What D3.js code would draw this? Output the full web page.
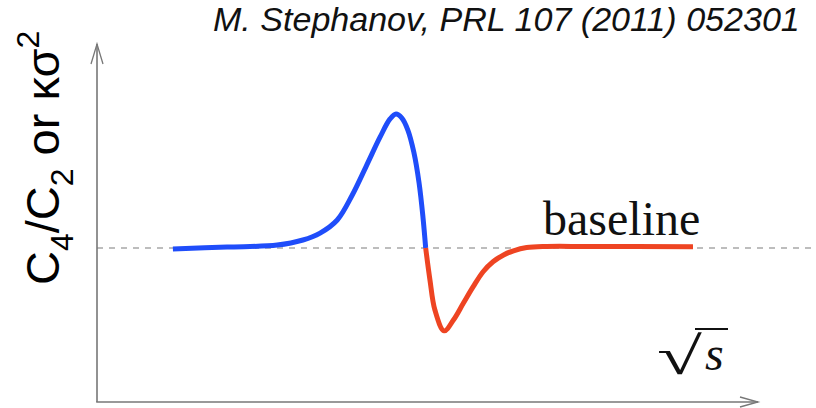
<!DOCTYPE html>
<html>
<head>
<meta charset="utf-8">
<script src="https://cdn.jsdelivr.net/npm/d3@7"></script>
<style>
  html, body { margin: 0; padding: 0; background: #fff; }
  svg { display: block; }
</style>
</head>
<body>
<svg id="chart" width="816" height="408"></svg>
<script>
// sqrt(s) in arbitrary units, ratio relative to baseline = 1
const blueX = [11.5, 19.7, 27.3, 31.2, 33.8, 36.4, 38.6, 40.8, 42.9, 44.4, 45.3, 46.2, 47.1, 48.0, 48.8, 49.4, 49.8];
const blueY = [0.994, 1.006, 1.019, 1.052, 1.097, 1.182, 1.338, 1.532, 1.721, 1.838, 1.870, 1.844, 1.766, 1.623, 1.422, 1.195, 1.0];
const redX = [49.8, 50.45, 51.2, 52.6, 54.0, 55.5, 57.0, 58.5, 60.0, 61.6, 63.1, 65.1, 68.1, 74.2, 90.3];
const redY = [1.0, 0.792, 0.597, 0.462, 0.532, 0.641, 0.749, 0.846, 0.911, 0.955, 0.982, 1.003, 1.01, 1.01, 1.008];
const baselineValue = 1;
const titleText = "M. Stephanov, PRL 107 (2011) 052301";

const svg = d3.select("#chart");
const x = d3.scaleLinear().domain([0, 100]).range([97, 757]);
const y = d3.scaleLinear().domain([0, 1]).range([402, 248]);

const axisColor = "#777";

// dashed baseline
svg.append("line")
  .attr("x1", x(0)).attr("x2", 816)
  .attr("y1", y(baselineValue)).attr("y2", y(baselineValue))
  .attr("stroke", "#a8a8a8").attr("stroke-width", 1.5)
  .attr("stroke-dasharray", "6,6");

// axes
svg.append("line").attr("x1", x(0)).attr("x2", x(0)).attr("y1", 402).attr("y2", 44)
  .attr("stroke", axisColor).attr("stroke-width", 1.6);
svg.append("path").attr("d", "M91,64 L97,44 L103,64")
  .attr("fill", "none").attr("stroke", axisColor).attr("stroke-width", 1.3);
svg.append("line").attr("x1", x(0) - 0.8).attr("x2", 758).attr("y1", 402).attr("y2", 402)
  .attr("stroke", axisColor).attr("stroke-width", 1.6);
svg.append("path").attr("d", "M740,397 L758,402 L740,407")
  .attr("fill", "none").attr("stroke", axisColor).attr("stroke-width", 1.3);

// curve
const line = d3.line()
  .x(d => x(d[0])).y(d => y(d[1]))
  .curve(d3.curveCatmullRom.alpha(0.5));

svg.append("path")
  .datum(d3.zip(blueX, blueY))
  .attr("d", line)
  .attr("fill", "none").attr("stroke", "#1f4dfa").attr("stroke-width", 5)
  .attr("stroke-linecap", "butt");
svg.append("path")
  .datum(d3.zip(redX, redY))
  .attr("d", line)
  .attr("fill", "none").attr("stroke", "#ee4422").attr("stroke-width", 5)
  .attr("stroke-linecap", "butt");

// title
const title = svg.append("text")
  .attr("x", 213).attr("y", 31)
  .attr("font-family", "Liberation Sans, Arial, sans-serif")
  .attr("font-style", "italic")
  .attr("font-size", 28)
  .attr("fill", "#111")
  .text(titleText);
const tw = title.node().getComputedTextLength();
title.attr("font-size", 28 * 587 / tw);

// y label
const yl = svg.append("text")
  .attr("transform", "translate(59,285) rotate(-90)")
  .attr("font-family", "Liberation Sans, Arial, sans-serif")
  .attr("font-size", 47)
  .attr("fill", "#000");
yl.append("tspan").text("C");
yl.append("tspan").attr("font-size", 32).attr("dy", 14).text("4");
yl.append("tspan").attr("dy", -14).text("/C");
yl.append("tspan").attr("font-size", 32).attr("dy", 14).text("2");
yl.append("tspan").attr("dy", -14).text(" or κσ");
yl.append("tspan").attr("font-size", 32).attr("dy", -20).text("2");

// baseline label
svg.append("text")
  .attr("x", 543).attr("y", 235)
  .attr("font-family", "Liberation Serif, Times New Roman, serif")
  .attr("font-size", 48)
  .attr("fill", "#111")
  .text("baseline");

// sqrt(s) label
const rad = svg.append("text")
  .attr("font-family", "Liberation Serif, serif")
  .attr("font-size", 60)
  .attr("fill", "#111")
  .text("√");
const bb = rad.node().getBBox();
const tx0 = 657, ty0 = 327, tx1 = 702, ty1 = 385;
rad.attr("transform",
  `translate(${tx0},${ty0}) scale(${(tx1 - tx0) / bb.width},${(ty1 - ty0) / bb.height}) translate(${-bb.x},${-bb.y})`);
svg.append("line").attr("x1", 695).attr("x2", 728).attr("y1", 329).attr("y2", 329)
  .attr("stroke", "#111").attr("stroke-width", 2);
svg.append("text")
  .attr("x", 705).attr("y", 370)
  .attr("font-family", "Liberation Serif, Times New Roman, serif")
  .attr("font-style", "italic")
  .attr("font-size", 48)
  .attr("fill", "#111")
  .text("s");
</script>
</body>
</html>
